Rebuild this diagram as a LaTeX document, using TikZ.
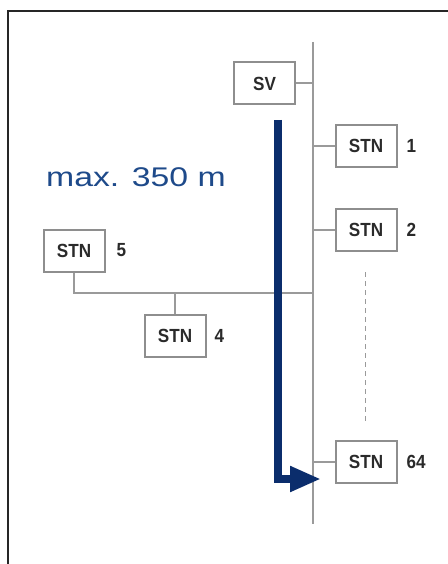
\documentclass[tikz,border=0pt]{standalone}
\usepackage{fontspec}
\setmainfont{Liberation Sans}
\newfontfamily\boxfont[FakeStretch=0.9]{Liberation Sans}
\newfontfamily\bigfont[FakeStretch=1.25]{Liberation Sans}
\usetikzlibrary{arrows.meta}
\definecolor{busgray}{HTML}{9A9A9A}
\definecolor{boxgray}{HTML}{8E8E8E}
\definecolor{navy}{HTML}{0B2D6C}
\definecolor{txtblue}{HTML}{1E4A8A}
\definecolor{txtdark}{HTML}{2A2A2A}
\definecolor{framec}{HTML}{262626}
\begin{document}
\begin{tikzpicture}[x=1pt,y=-1pt,
  stnbox/.style={draw=boxgray,line width=2pt,fill=white,minimum width=61pt,minimum height=42pt,inner sep=0pt,
    font=\boxfont\bfseries\fontsize{19}{19}\selectfont,text=txtdark},
  numlbl/.style={anchor=west,inner sep=0pt,font=\boxfont\bfseries\fontsize{19}{19}\selectfont,text=txtdark},
  bus/.style={draw=busgray,line width=2pt},
  dotline/.style={draw=busgray,line width=1pt,dash pattern=on 5pt off 4pt},
  bluearrow/.style={draw=navy,line width=8pt,line join=miter,-{Triangle[length=31pt,width=24pt]}}]
\useasboundingbox (0,0) rectangle (447,564);
\fill[white] (0,0) rectangle (447,564);
% frame
\coordinate (fbl) at (8,570);
\coordinate (ftl) at (8,11);
\coordinate (ftr) at (455,11);
\draw[framec,line width=2.5pt] (fbl) -- (ftl) -- (ftr);
% bus
\coordinate (bustop) at (313,42);
\coordinate (busbot) at (313,524);
\draw[bus] (bustop) -- (busbot);
% nodes
\node[stnbox] (sv) at (264.5,83.5) {SV};
\node[stnbox] (stn1) at (366,146) {STN};
\node[stnbox] (stn2) at (366,230) {STN};
\node[stnbox] (stn5) at (74,250.5) {STN};
\node[stnbox] (stn4) at (175,336) {STN};
\node[stnbox] (stn64) at (366,462) {STN};
\node[numlbl] (n1) at ([xshift=9pt]stn1.east) {1};
\node[numlbl] (n2) at ([xshift=9pt]stn2.east) {2};
\node[numlbl] (n5) at ([xshift=11pt]stn5.east) {5};
\node[numlbl] (n4) at ([xshift=8pt]stn4.east) {4};
\node[numlbl] (n64) at ([xshift=9pt]stn64.east) {64};
% connectors to bus
\draw[bus] (sv.east) -- (sv.east -| bustop);
\draw[bus] (stn1.west) -- (stn1.west -| bustop);
\draw[bus] (stn2.west) -- (stn2.west -| bustop);
\draw[bus] (stn64.west) -- (stn64.west -| bustop);
% branch
\coordinate (branch) at (313,293);
\draw[bus] (stn5.south) |- (branch);
\draw[bus] (stn4.north) -- (stn4.north |- branch);
% dashed
\coordinate (dtop) at (365,272);
\coordinate (dbot) at (365,422);
\draw[dotline] (dtop) -- (dbot);
% distance label
\node[anchor=base west,inner sep=0pt,text=txtblue,font=\bigfont\fontsize{27}{27}\selectfont] (maxlbl) at (46,186) {max. 350 m};
% blue arrow
\coordinate (astart) at (278,120);
\coordinate (atip) at (321,479);
\draw[bluearrow] (astart) |- (atip);
\end{tikzpicture}
\end{document}
